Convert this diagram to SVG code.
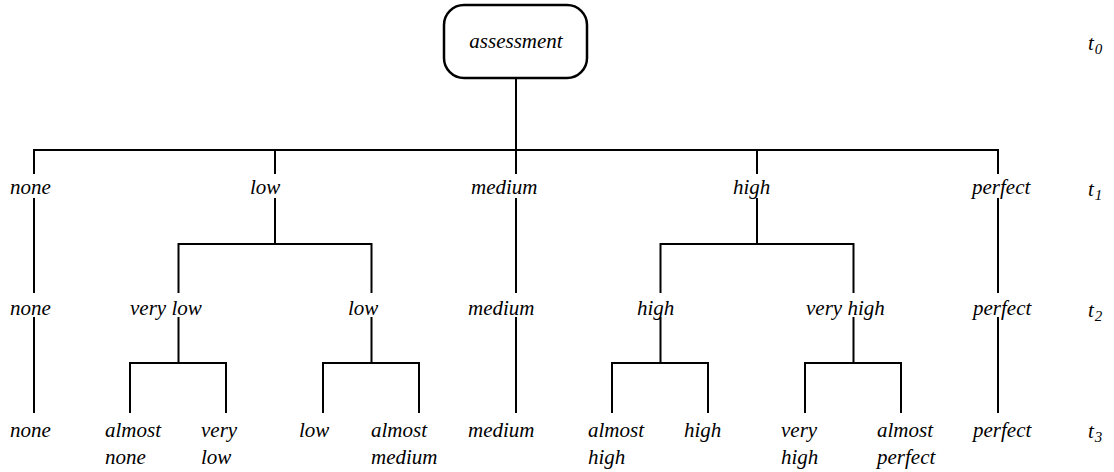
<svg xmlns="http://www.w3.org/2000/svg" width="1114" height="472" viewBox="0 0 1114 472" font-family="Liberation Serif, DejaVu Serif, serif">
<style>
text{font-style:italic;font-size:21px;fill:#000}
.sub{font-size:15px}
.ln{stroke:#000;stroke-width:2;fill:none;stroke-linecap:square}
.box{stroke:#000;stroke-width:2.5;fill:#fff}
</style>
<rect width="1114" height="472" fill="#fff"/>
<g id="connectors" class="ln">
<path class="ln" d="M516 78V150M34 150H998M34 150V173M275 150V173M516 150V173M757 150V173M998 150V173"/>
<path class="ln" d="M34 199V292M516 199V292M998 199V292M275 199V244M757 199V244M178.5 244H371.5M660.5 244H853.5M178.5 244V292M371.5 244V292M660.5 244V292M853.5 244V292"/>
<path class="ln" d="M34 318V412M516 318V412M998 318V412M178.5 318V363M371.5 318V363M660.5 318V363M853.5 318V363M130 363H226M323 363H419M612 363H708M805 363H901M130 363V412M226 363V412M323 363V412M419 363V412M612 363V412M708 363V412M805 363V412M901 363V412"/>
</g>
<g id="root"><rect class="box" x="444" y="5" width="143" height="73" rx="20"/><text x="516" y="48" text-anchor="middle">assessment</text></g>
<g id="l1-none"><text x="10" y="194">none</text></g>
<g id="l1-low"><text x="250" y="194">low</text></g>
<g id="l1-medium"><text x="471" y="194">medium</text></g>
<g id="l1-high"><text x="733" y="194">high</text></g>
<g id="l1-perfect"><text x="972" y="194">perfect</text></g>
<g id="l2-none"><text x="10" y="315">none</text></g>
<g id="l2-verylow"><text x="130" y="315">very low</text></g>
<g id="l2-low"><text x="348" y="315">low</text></g>
<g id="l2-medium"><text x="468" y="315">medium</text></g>
<g id="l2-high"><text x="637" y="315">high</text></g>
<g id="l2-veryhigh"><text x="806" y="315">very high</text></g>
<g id="l2-perfect"><text x="973" y="315">perfect</text></g>
<g id="l3-none"><text x="10" y="437">none</text></g>
<g id="l3-almostnone"><text x="105" y="437">almost</text><text x="105" y="464">none</text></g>
<g id="l3-verylow"><text x="201" y="437">very</text><text x="201" y="464">low</text></g>
<g id="l3-low"><text x="299" y="437">low</text></g>
<g id="l3-almostmedium"><text x="371" y="437">almost</text><text x="371" y="464">medium</text></g>
<g id="l3-medium"><text x="468" y="437">medium</text></g>
<g id="l3-almosthigh"><text x="588" y="437">almost</text><text x="588" y="464">high</text></g>
<g id="l3-high"><text x="684" y="437">high</text></g>
<g id="l3-veryhigh"><text x="781" y="437">very</text><text x="781" y="464">high</text></g>
<g id="l3-almostperfect"><text x="877" y="437">almost</text><text x="877" y="464">perfect</text></g>
<g id="l3-perfect"><text x="973" y="437">perfect</text></g>
<g id="time-labels">
<text x="1088" y="50">t<tspan class="sub" dx="1" dy="4">0</tspan></text>
<text x="1088" y="196">t<tspan class="sub" dx="1" dy="4">1</tspan></text>
<text x="1088" y="317">t<tspan class="sub" dx="1" dy="4">2</tspan></text>
<text x="1088" y="438">t<tspan class="sub" dx="1" dy="4">3</tspan></text>
</g>
</svg>
